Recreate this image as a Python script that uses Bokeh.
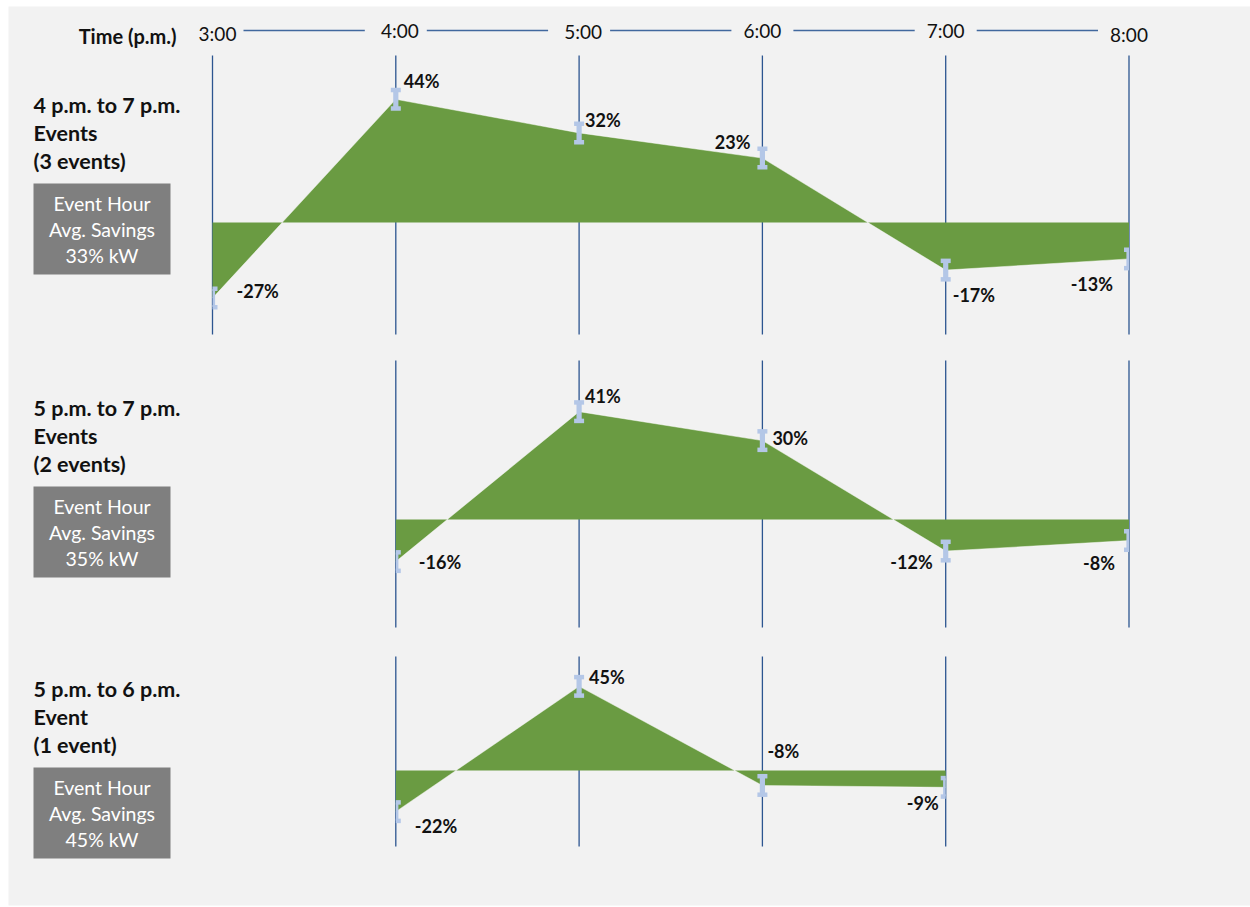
from bokeh.plotting import figure
from bokeh.models import Range1d, ColumnDataSource
from bokeh.core.properties import value
from bokeh.embed import file_html
from bokeh.resources import INLINE

# Time axis
hours = [3, 4, 5, 6, 7, 8]
hour_labels = ["3:00", "4:00", "5:00", "6:00", "7:00", "8:00"]

# Event groups
panel_titles = [
    ["4 p.m. to 7 p.m.", "Events", "(3 events)"],
    ["5 p.m. to 7 p.m.", "Events", "(2 events)"],
    ["5 p.m. to 6 p.m.", "Event", "(1 event)"],
]

# Hourly kW savings (percent) for each event group
hours_4to7 = [3, 4, 5, 6, 7, 8]
savings_4to7 = [-27, 44, 32, 23, -17, -13]
hours_5to7 = [4, 5, 6, 7, 8]
savings_5to7 = [-16, 41, 30, -12, -8]
hours_5to6 = [4, 5, 6, 7]
savings_5to6 = [-22, 45, -8, -9]

# Event-hour average savings (percent kW)
avg_savings = [33, 35, 45]

FONT = "Lato"
GREEN = "#6A9B42"
LINE_BLUE = "#2C5590"
HEAD_BLUE = "#41689E"
BAR_BLUE = "#B4C7E7"
BOX_GRAY = "#7F7F7F"
BG = "#F2F2F2"
TXT = "#111111"

W, H = 1250, 907
X0, PPH = 212.0, 183.3  # pixel x of 3:00 and pixels per hour

# Panel layout: baseline y (px), px per percent point, hour-line extent,
# first title line y, grey box top, value label offsets / alignment
layouts = [
    dict(base=222, scale=2.8, vtop=55, vbot=334, title_y=104, box_top=183,
         dx=[24, 8, 6, -12, 7, -16], dy=[-7, -18, -13, -16, 25, 25],
         align=["left", "left", "left", "right", "left", "right"]),
    dict(base=519, scale=2.63, vtop=360, vbot=627, title_y=407, box_top=486,
         dx=[23, 6, 10, -13, -14], dy=[0, -16, -3, 11, 22],
         align=["left", "left", "left", "right", "right"]),
    dict(base=770, scale=1.87, vtop=656, vbot=846, title_y=688, box_top=767,
         dx=[19, 10, 5, -7], dy=[14, -9, -34, 16],
         align=["left", "left", "left", "right"]),
]
series = [(hours_4to7, savings_4to7), (hours_5to7, savings_5to7), (hours_5to6, savings_5to6)]

p = figure(width=W, height=H, output_backend="svg", toolbar_location=None,
           x_range=Range1d(3 - X0 / PPH, 3 + (W - X0) / PPH),
           y_range=Range1d(H, 0),
           x_axis_type=None, y_axis_type=None,
           min_border=0, outline_line_color=None,
           background_fill_color="white", border_fill_color="white")

ranges = {}
for i, lay in enumerate(layouts):
    B, s = lay["base"], lay["scale"]
    ranges[f"panel{i}"] = Range1d(start=-(H - B) / s, end=B / s)
p.extra_y_ranges = ranges
p.extra_x_ranges = {"px": Range1d(0, W)}

# grey backdrop
p.quad(left=[8], right=[W], top=[6], bottom=[905], x_range_name="px",
       fill_color=BG, line_color=None)

# header
p.text(x=[176], y=[35], text=["Time (p.m.)"], x_range_name="px",
       text_align="right", text_baseline="middle", text_font=value(FONT),
       text_font_style="bold", text_font_size="20px", text_color=TXT)
head_src = ColumnDataSource(dict(x=hours, y=[33, 30, 31, 30, 30, 34],
                                 t=hour_labels, dx=[5, 4, 4, 0, 0, 0]))
p.text(x="x", y="y", text="t", x_offset="dx", source=head_src,
       text_align="center", text_baseline="middle", text_font=value(FONT),
       text_font_size="19px", text_color=TXT)
gap = 31 / PPH
p.segment(x0=[h + gap for h in hours[:-1]], x1=[h + 1 - gap for h in hours[:-1]],
          y0=[30] * (len(hours) - 1), y1=[30] * (len(hours) - 1),
          line_color=HEAD_BLUE, line_width=1.6)

for i, ((hx, vals), lay) in enumerate(zip(series, layouts)):
    B, s = lay["base"], lay["scale"]
    rn = f"panel{i}"
    n = len(hx)

    # hour lines (behind the area)
    p.segment(x0=hx, x1=hx, y0=[(B - lay["vtop"]) / s] * n, y1=[(B - lay["vbot"]) / s] * n,
              y_range_name=rn, line_color=LINE_BLUE, line_width=1.3)

    # savings area
    p.varea(x=hx, y1=[0] * n, y2=vals, fill_color=GREEN, y_range_name=rn)
    p.line(hx, vals, line_color="white", line_width=1, line_alpha=0.45, y_range_name=rn)

    # confidence markers, clipped to the group's time span
    lo, hi = min(hx), max(hx)
    def span(h, half):
        return max(h - half / PPH, lo), min(h + half / PPH, hi)
    stem = [span(h, 2.6) for h in hx]
    cap = [span(h, 5) for h in hx]
    p.quad(left=[a for a, b in stem], right=[b for a, b in stem],
           bottom=[v - 9 / s for v in vals], top=[v + 9 / s for v in vals],
           y_range_name=rn, fill_color=BAR_BLUE, line_color=None)
    for sign in (1, -1):
        p.quad(left=[a for a, b in cap], right=[b for a, b in cap],
               bottom=[v + sign * 7 / s for v in vals], top=[v + sign * 11.5 / s for v in vals],
               y_range_name=rn, fill_color=BAR_BLUE, line_color=None)

    # value labels
    for al in ("left", "right"):
        idx = [k for k in range(n) if lay["align"][k] == al]
        if not idx:
            continue
        src = ColumnDataSource(dict(x=[hx[k] for k in idx], y=[vals[k] for k in idx],
                                    t=[f"{vals[k]}%" for k in idx],
                                    dx=[lay["dx"][k] for k in idx],
                                    dy=[lay["dy"][k] for k in idx]))
        p.text(x="x", y="y", text="t", x_offset="dx", y_offset="dy", source=src,
               y_range_name=rn, text_align=al, text_baseline="middle",
               text_font=value(FONT), text_font_style="bold", text_font_size="18px",
               text_color=TXT)

    # group title
    ty = lay["title_y"]
    p.text(x=[33] * 3, y=[ty, ty + 28, ty + 56], text=panel_titles[i], x_range_name="px",
           text_align="left", text_baseline="middle", text_font=value(FONT),
           text_font_style="bold", text_font_size="21.5px", text_color=TXT)

    # average savings box
    bt = lay["box_top"]
    p.quad(left=[33], right=[170], top=[bt], bottom=[bt + 91], x_range_name="px",
           fill_color=BOX_GRAY, line_color=None)
    p.text(x=[101.5] * 3, y=[bt + 20, bt + 46, bt + 72],
           text=["Event Hour", "Avg. Savings", f"{avg_savings[i]}% kW"], x_range_name="px",
           text_align="center", text_baseline="middle", text_font=value(FONT),
           text_font_size="19.5px", text_color="white")

open("out.html", "w").write(file_html(p, INLINE))
